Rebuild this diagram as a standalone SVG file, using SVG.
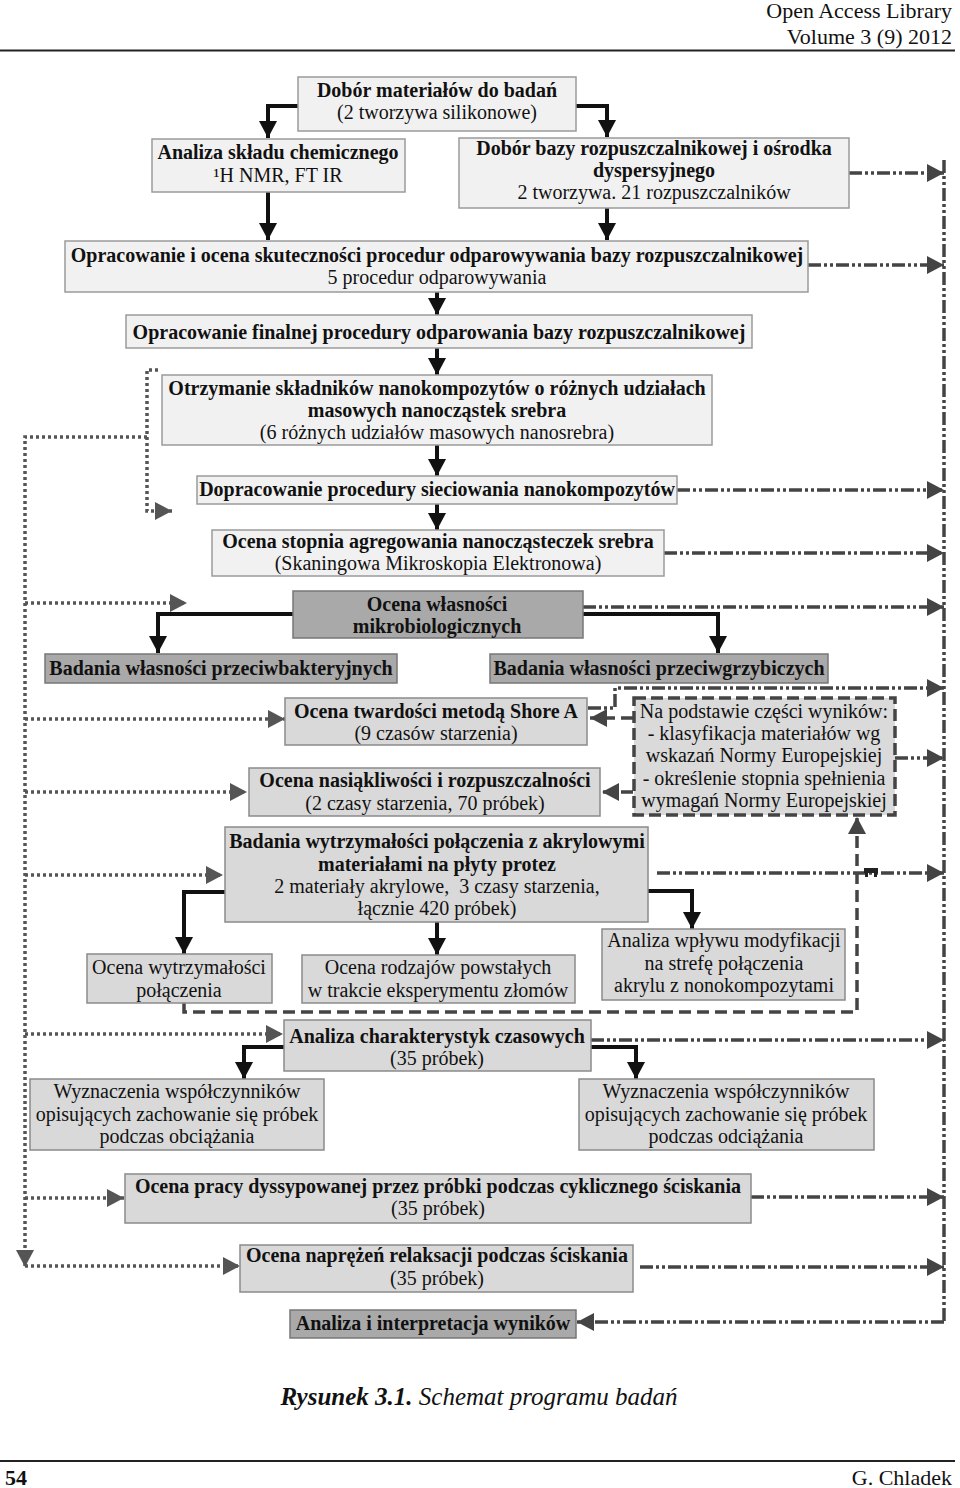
<svg xmlns="http://www.w3.org/2000/svg" width="960" height="1488" viewBox="0 0 960 1488">
<style>
.l{fill:#f1f1f1;stroke:#9a9a9a;stroke-width:1.5}
.m{fill:#d9d9d9;stroke:#8a8a8a;stroke-width:1.5}
.d{fill:#a9a9a9;stroke:#777;stroke-width:1.5}
.q{fill:#dadada;stroke:#444;stroke-width:3.5;stroke-dasharray:12 5}
text{font-family:"Liberation Serif","Times New Roman",serif;fill:#111}
.t{font-size:20px;text-anchor:middle}
.bo{font-weight:bold}
.s{fill:none;stroke:#111;stroke-width:4}
.dd{fill:none;stroke:#444;stroke-width:3.5;stroke-dasharray:13 3 3 3 3 3}
.da{fill:none;stroke:#444;stroke-width:3.5;stroke-dasharray:12 6}
.do{fill:none;stroke:#555;stroke-width:3.5;stroke-dasharray:3 3}
</style>
<defs>
<marker id="ab" viewBox="0 0 17 18" markerWidth="17" markerHeight="18" refX="17" refY="9" orient="auto" markerUnits="userSpaceOnUse"><path d="M0,0 L17,9 L0,18 z" fill="#111"/></marker>
<marker id="ag" viewBox="0 0 17 18" markerWidth="17" markerHeight="18" refX="17" refY="9" orient="auto" markerUnits="userSpaceOnUse"><path d="M0,0 L17,9 L0,18 z" fill="#444"/></marker>
<marker id="ao" viewBox="0 0 17 18" markerWidth="17" markerHeight="18" refX="17" refY="9" orient="auto" markerUnits="userSpaceOnUse"><path d="M0,0 L17,9 L0,18 z" fill="#555"/></marker>
</defs>
<rect width="960" height="1488" fill="#fff"/>
<g id="header">
<text x="952" y="18" font-size="22" text-anchor="end">Open Access Library</text>
<text x="952" y="44" font-size="22" text-anchor="end">Volume 3 (9) 2012</text>
<line x1="0" y1="50.5" x2="955" y2="50.5" stroke="#222" stroke-width="2"/>
</g>
<g id="connectors">
<path class="s" d="M298,106 H268 V138" marker-end="url(#ab)"/>
<path class="s" d="M576,106 H607 V137" marker-end="url(#ab)"/>
<path class="s" d="M268,192 V240" marker-end="url(#ab)"/>
<path class="s" d="M607,208 V240" marker-end="url(#ab)"/>
<path class="s" d="M437,292 V315" marker-end="url(#ab)"/>
<path class="s" d="M437,348 V375" marker-end="url(#ab)"/>
<path class="s" d="M437,445 V476" marker-end="url(#ab)"/>
<path class="s" d="M437,504 V530" marker-end="url(#ab)"/>
<path class="s" d="M293,614 H158 V653" marker-end="url(#ab)"/>
<path class="s" d="M583,614 H718 V653" marker-end="url(#ab)"/>
<path class="s" d="M225,892 H184 V954" marker-end="url(#ab)"/>
<path class="s" d="M437,922 V955" marker-end="url(#ab)"/>
<path class="s" d="M648,891 H692 V929" marker-end="url(#ab)"/>
<path class="s" d="M284,1047 H244 V1079" marker-end="url(#ab)"/>
<path class="s" d="M591,1047 H636 V1079" marker-end="url(#ab)"/>
<path class="dd" d="M944,160 V1322"/>
<path class="dd" d="M849,173 H944" marker-end="url(#ag)"/>
<path class="dd" d="M808,265 H944" marker-end="url(#ag)"/>
<path class="dd" d="M677,490 H944" marker-end="url(#ag)"/>
<path class="dd" d="M664,553 H944" marker-end="url(#ag)"/>
<path class="dd" d="M583,607 H944" marker-end="url(#ag)"/>
<path class="dd" d="M588,708 H615 V688 H944" marker-end="url(#ag)"/>
<path class="dd" d="M895,758 H944" marker-end="url(#ag)"/>
<path class="dd" d="M657,873 H944" marker-end="url(#ag)"/>
<path class="dd" d="M591,1040 H944" marker-end="url(#ag)"/>
<path class="dd" d="M751,1197 H944" marker-end="url(#ag)"/>
<path class="dd" d="M640,1267 H944" marker-end="url(#ag)"/>
<path class="dd" d="M944,1322 H577" marker-end="url(#ag)"/>
<path class="da" d="M633,718 H590" marker-end="url(#ag)"/>
<path class="da" d="M633,792 H602" marker-end="url(#ag)"/>
<path class="da" d="M184,1003 V1012 H857 V817" marker-end="url(#ag)"/>
<g fill="#222"><rect x="864" y="868" width="14" height="5"/><rect x="865" y="872" width="3" height="5"/><rect x="874" y="872" width="3" height="5"/></g>
<path class="do" d="M158,370 H147 V511 H172" marker-end="url(#ao)"/>
<path class="do" d="M147,437 H25 V1267" marker-end="url(#ao)"/>
<path class="do" d="M25,603 H187" marker-end="url(#ao)"/>
<path class="do" d="M25,719 H285" marker-end="url(#ao)"/>
<path class="do" d="M25,792 H247" marker-end="url(#ao)"/>
<path class="do" d="M25,875 H223" marker-end="url(#ao)"/>
<path class="do" d="M25,1034 H283" marker-end="url(#ao)"/>
<path class="do" d="M25,1198 H124" marker-end="url(#ao)"/>
<path class="do" d="M25,1266 H240" marker-end="url(#ao)"/>
</g>
<g id="n1"><rect class="l" x="298" y="77" width="278" height="54"/>
<text class="t bo" x="437" y="97">Dobór materiałów do badań</text><text class="t" x="437" y="119">(2 tworzywa silikonowe)</text></g>
<g id="n2"><rect class="l" x="152" y="139" width="253" height="53"/>
<text class="t bo" x="278" y="159">Analiza składu chemicznego</text><text class="t" x="278" y="182">¹H NMR, FT IR</text></g>
<g id="n3"><rect class="l" x="459" y="138" width="390" height="70"/>
<text class="t bo" x="654" y="155">Dobór bazy rozpuszczalnikowej i ośrodka</text><text class="t bo" x="654" y="177">dyspersyjnego</text><text class="t" x="654" y="199">2 tworzywa. 21 rozpuszczalników</text></g>
<g id="n4"><rect class="l" x="65" y="241" width="743" height="51"/>
<text class="t bo" x="437" y="262">Opracowanie i ocena skuteczności procedur odparowywania bazy rozpuszczalnikowej</text><text class="t" x="437" y="284">5 procedur odparowywania</text></g>
<g id="n5"><rect class="l" x="126" y="315" width="626" height="33"/>
<text class="t bo" x="439" y="339">Opracowanie finalnej procedury odparowania bazy rozpuszczalnikowej</text></g>
<g id="n6"><rect class="l" x="162" y="375" width="550" height="70"/>
<text class="t bo" x="437" y="395">Otrzymanie składników nanokompozytów o różnych udziałach</text><text class="t bo" x="437" y="417">masowych nanocząstek srebra</text><text class="t" x="437" y="439">(6 różnych udziałów masowych nanosrebra)</text></g>
<g id="n7"><rect class="l" x="197" y="476" width="480" height="28"/>
<text class="t bo" x="437" y="496">Dopracowanie procedury sieciowania nanokompozytów</text></g>
<g id="n8"><rect class="l" x="212" y="530" width="452" height="46"/>
<text class="t bo" x="438" y="548">Ocena stopnia agregowania nanocząsteczek srebra</text><text class="t" x="438" y="570">(Skaningowa Mikroskopia Elektronowa)</text></g>
<g id="n9"><rect class="d" x="293" y="591" width="290" height="47"/>
<text class="t bo" x="437" y="611">Ocena własności</text><text class="t bo" x="437" y="633">mikrobiologicznych</text></g>
<g id="n10"><rect class="d" x="45" y="654" width="352" height="29"/>
<text class="t bo" x="221" y="675">Badania własności przeciwbakteryjnych</text></g>
<g id="n11"><rect class="d" x="490" y="654" width="338" height="29"/>
<text class="t bo" x="659" y="675">Badania własności przeciwgrzybiczych</text></g>
<g id="n12"><rect class="m" x="285" y="698" width="302" height="47"/>
<text class="t bo" x="436" y="718">Ocena twardości metodą Shore A</text><text class="t" x="436" y="740">(9 czasów starzenia)</text></g>
<g id="n13"><rect class="q" x="634" y="698" width="261" height="117"/>
<text class="t" x="764" y="718">Na podstawie części wyników:</text><text class="t" x="764" y="740">- klasyfikacja materiałów wg</text><text class="t" x="764" y="762">wskazań Normy Europejskiej</text><text class="t" x="764" y="785">- określenie stopnia spełnienia</text><text class="t" x="764" y="807">wymagań Normy Europejskiej</text></g>
<g id="n14"><rect class="m" x="249" y="768" width="351" height="48"/>
<text class="t bo" x="425" y="787">Ocena nasiąkliwości i rozpuszczalności</text><text class="t" x="425" y="810">(2 czasy starzenia, 70 próbek)</text></g>
<g id="n15"><rect class="m" x="225" y="827" width="423" height="95"/>
<text class="t bo" x="437" y="848">Badania wytrzymałości połączenia z akrylowymi</text><text class="t bo" x="437" y="871">materiałami na płyty protez</text><text class="t" x="437" y="893" xml:space="preserve">2 materiały akrylowe,  3 czasy starzenia,</text><text class="t" x="437" y="915">łącznie 420 próbek)</text></g>
<g id="n16"><rect class="m" x="87" y="954" width="185" height="49"/>
<text class="t" x="179" y="974">Ocena wytrzymałości</text><text class="t" x="179" y="997">połączenia</text></g>
<g id="n17"><rect class="m" x="302" y="955" width="273" height="48"/>
<text class="t" x="438" y="974">Ocena rodzajów powstałych</text><text class="t" x="438" y="997">w trakcie eksperymentu złomów</text></g>
<g id="n18"><rect class="m" x="602" y="929" width="243" height="71"/>
<text class="t" x="724" y="947">Analiza wpływu modyfikacji</text><text class="t" x="724" y="970">na strefę połączenia</text><text class="t" x="724" y="992">akrylu z nonokompozytami</text></g>
<g id="n19"><rect class="m" x="284" y="1020" width="307" height="51"/>
<text class="t bo" x="437" y="1043">Analiza charakterystyk czasowych</text><text class="t" x="437" y="1065">(35 próbek)</text></g>
<g id="n20"><rect class="m" x="30" y="1079" width="294" height="71"/>
<text class="t" x="177" y="1098">Wyznaczenia współczynników</text><text class="t" x="177" y="1121">opisujących zachowanie się próbek</text><text class="t" x="177" y="1143">podczas obciążania</text></g>
<g id="n21"><rect class="m" x="579" y="1079" width="295" height="71"/>
<text class="t" x="726" y="1098">Wyznaczenia współczynników</text><text class="t" x="726" y="1121">opisujących zachowanie się próbek</text><text class="t" x="726" y="1143">podczas odciążania</text></g>
<g id="n22"><rect class="m" x="125" y="1174" width="626" height="49"/>
<text class="t bo" x="438" y="1193">Ocena pracy dyssypowanej przez próbki podczas cyklicznego ściskania</text><text class="t" x="438" y="1215">(35 próbek)</text></g>
<g id="n23"><rect class="m" x="240" y="1245" width="393" height="47"/>
<text class="t bo" x="437" y="1262">Ocena naprężeń relaksacji podczas ściskania</text><text class="t" x="437" y="1285">(35 próbek)</text></g>
<g id="n24"><rect class="d" x="290" y="1310" width="286" height="28"/>
<text class="t bo" x="433" y="1330">Analiza i interpretacja wyników</text></g>
<g id="caption">
<text x="479" y="1405" font-size="25" text-anchor="middle" font-style="italic"><tspan font-weight="bold">Rysunek 3.1.</tspan> Schemat programu badań</text>
</g>
<g id="footer">
<line x1="0" y1="1461" x2="955" y2="1461" stroke="#222" stroke-width="2"/>
<text x="5" y="1485" font-size="22" font-weight="bold">54</text>
<text x="952" y="1485" font-size="22" text-anchor="end">G. Chladek</text>
</g>
</svg>
